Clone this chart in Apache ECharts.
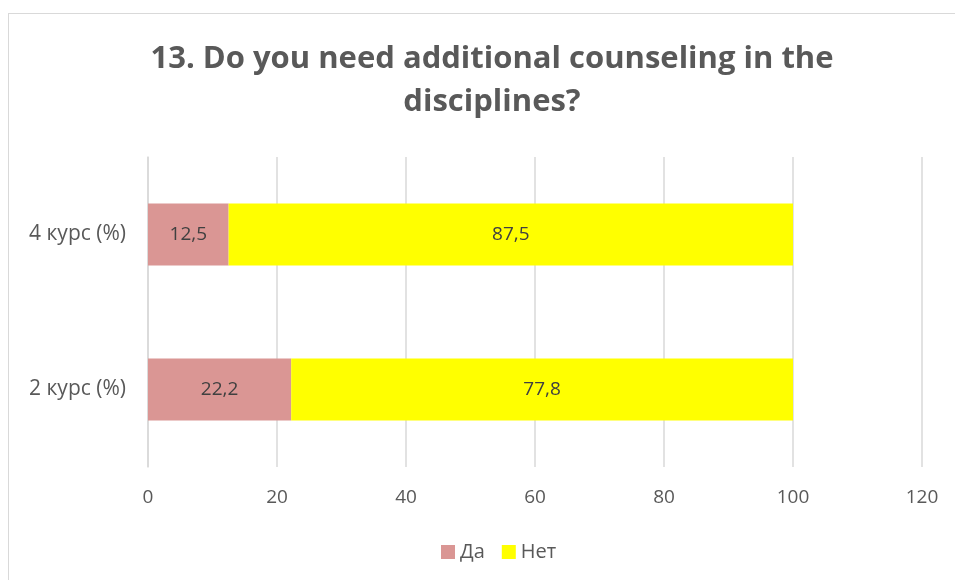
<!DOCTYPE html>
<html>
<head>
<meta charset="utf-8">
<script src="https://cdn.jsdelivr.net/npm/echarts@6/dist/echarts.min.js"></script>
<style>
html,body{margin:0;padding:0;background:#fff;}
#frame{position:absolute;left:8px;top:13px;width:1000px;height:600px;border:1.5px solid #d9d9d9;box-sizing:border-box;}
#chart{position:absolute;left:0;top:0;width:955px;height:580px;}
</style>
</head>
<body>
<div id="frame"></div>
<div id="chart"></div>
<script>
var titleText = '13. Do you need additional counseling in the\ndisciplines?';
var categories = ['2 курс (%)', '4 курс (%)'];
var seriesNames = ['Да', 'Нет'];
var daValues = [22.2, 12.5];
var netValues = [77.8, 87.5];
var xTicks = [0, 20, 40, 60, 80, 100, 120];

var chart = echarts.init(document.getElementById('chart'), null, {renderer: 'canvas'});
var fmt = function (p) { return String(p.value).replace('.', ','); };
chart.setOption({
  backgroundColor: 'transparent',
  title: {
    text: titleText,
    left: 487, top: 33, textAlign: 'center',
    textStyle: {fontFamily: 'Open Sans', fontWeight: 'bold', fontSize: 31, color: '#595959', lineHeight: 43}
  },
  legend: {
    data: seriesNames,
    bottom: 13, left: 436,
    itemWidth: 14, itemHeight: 14, itemGap: 17, icon: 'rect',
    textStyle: {fontFamily: 'Open Sans', fontSize: 20, color: '#595959', padding: [0,0,0,0]}
  },
  grid: {left: 148, right: 33, top: 157, bottom: 113, containLabel: false},
  xAxis: {
    type: 'value', min: xTicks[0], max: xTicks[xTicks.length-1], interval: 20,
    axisLine: {show: false}, axisTick: {show: false},
    splitLine: {lineStyle: {color: '#d9d9d9', width: 1.5}},
    axisLabel: {fontFamily: 'Open Sans', fontSize: 19, color: '#595959', margin: 21}
  },
  yAxis: {
    type: 'category', data: categories,
    axisLine: {show: true, lineStyle: {color: '#d9d9d9', width: 1.5}},
    axisTick: {show: false},
    axisLabel: {fontFamily: 'Open Sans', fontSize: 21, color: '#595959', margin: 22}
  },
  series: [
    {name: seriesNames[0], type: 'bar', stack: 't', data: daValues, barWidth: '40%',
     itemStyle: {color: '#da9694'},
     label: {show: true, position: 'inside', formatter: fmt, fontFamily: 'Open Sans', fontSize: 19, color: '#404040'}},
    {name: seriesNames[1], type: 'bar', stack: 't', data: netValues, barWidth: '40%',
     itemStyle: {color: '#ffff00'},
     label: {show: true, position: 'inside', formatter: fmt, fontFamily: 'Open Sans', fontSize: 19, color: '#404040'}}
  ]
});
</script>
</body>
</html>
